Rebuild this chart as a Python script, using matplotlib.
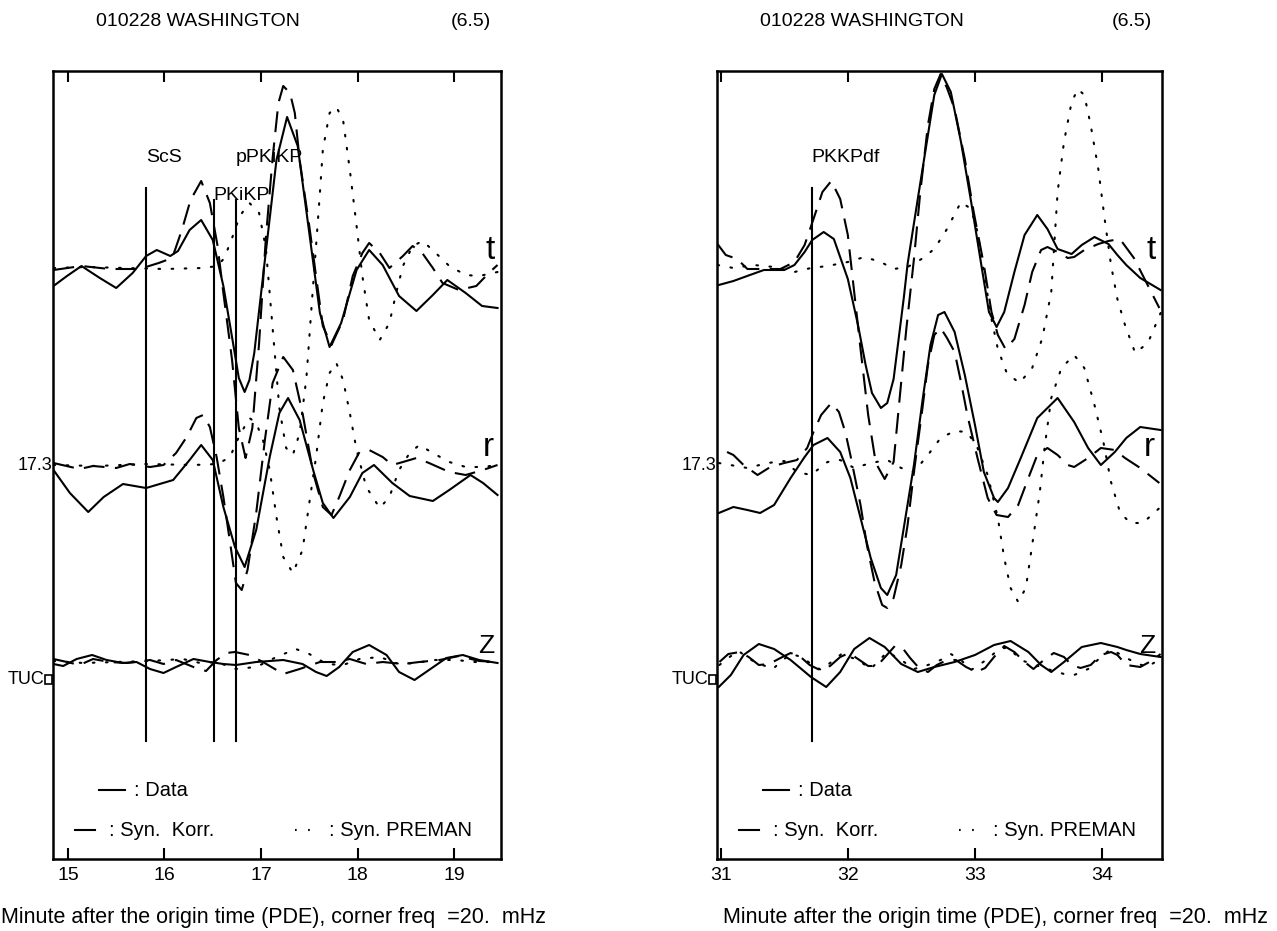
import numpy as np
import matplotlib.pyplot as plt

plt.rcParams['font.family'] = ['Liberation Sans', 'DejaVu Sans']

# ---- left panel (15-19 min), traces as (minute, amplitude) pairs ----
L_T_DATA = [(14.85, -18), (14.99, -8), (15.14, 2), (15.33, -10), (15.50, -20), (15.67, -5), (15.81, 12),
            (15.92, 18), (16.06, 12), (16.14, 17), (16.26, 38), (16.38, 48), (16.50, 28), (16.61, -18),
            (16.71, -75), (16.77, -110), (16.83, -124), (16.88, -112), (16.93, -85), (17.04, 8), (17.16, 108),
            (17.27, 151), (17.38, 122), (17.50, 35), (17.61, -45), (17.71, -79), (17.83, -55), (17.99, -2),
            (18.12, 18), (18.26, 3), (18.43, -28), (18.61, -43), (18.78, -27), (18.93, -12), (19.12, -25),
            (19.29, -38), (19.45, -40)]
L_T_KORR = [(14.85, -2), (15.14, 2), (15.43, -1), (15.74, -1), (15.94, 5), (16.08, 10), (16.18, 38), (16.27, 68),
            (16.38, 87), (16.47, 65), (16.55, 22), (16.61, -25), (16.70, -92), (16.77, -160), (16.84, -190),
            (16.91, -160), (16.98, -75), (17.05, 30), (17.12, 110), (17.18, 165), (17.23, 182), (17.30, 175),
            (17.35, 155), (17.40, 108), (17.50, 42), (17.57, -8), (17.64, -58), (17.73, -77), (17.85, -52),
            (17.95, -8), (18.05, 15), (18.12, 25), (18.23, 15), (18.33, 0), (18.47, 12), (18.57, 22),
            (18.67, 15), (18.78, 0), (18.88, -15), (19.05, -22), (19.23, -18), (19.36, -5), (19.45, 3)]
L_T_PREM = [(14.85, 0), (15.2, 1), (15.6, 0), (16.0, -1), (16.40, 0), (16.55, 2), (16.62, 10), (16.70, 30),
            (16.78, 52), (16.88, 65), (16.98, 55), (17.05, 20), (17.12, -60), (17.19, -140), (17.26, -180),
            (17.33, -187), (17.40, -165), (17.47, -110), (17.53, -30), (17.57, 22), (17.61, 75), (17.64, 118),
            (17.71, 155), (17.78, 161), (17.85, 148), (17.92, 98), (17.99, 42), (18.05, -8), (18.12, -52),
            (18.23, -72), (18.33, -55), (18.40, -25), (18.47, 2), (18.57, 22), (18.675, 27), (18.81, 15),
            (18.95, 2), (19.12, -7), (19.26, -8), (19.45, -4)]

L_R_DATA = [(14.85, -5), (15.02, -28), (15.21, -47), (15.37, -32), (15.57, -19), (15.81, -23), (16.09, -15),
            (16.26, 5), (16.38, 20), (16.50, 5), (16.61, -42), (16.73, -82), (16.83, -102), (16.95, -65),
            (17.09, 8), (17.19, 52), (17.28, 67), (17.40, 45), (17.54, -5), (17.64, -38), (17.75, -53),
            (17.92, -32), (18.05, -8), (18.17, 0), (18.36, -18), (18.54, -31), (18.78, -36), (18.95, -25),
            (19.17, -10), (19.30, -18), (19.45, -30)]
L_R_KORR = [(14.85, 2), (15.12, -4), (15.26, -1), (15.50, -3), (15.64, 1), (15.85, -2), (15.99, 0), (16.12, 12),
            (16.23, 28), (16.33, 47), (16.40, 50), (16.47, 38), (16.54, 8), (16.61, -32), (16.68, -78),
            (16.74, -118), (16.80, -125), (16.86, -105), (16.95, -48), (17.04, 25), (17.12, 82), (17.23, 108),
            (17.33, 95), (17.43, 52), (17.54, -8), (17.64, -42), (17.73, -50), (17.81, -32), (17.92, -5),
            (18.02, 13), (18.12, 15), (18.26, 8), (18.36, 0), (18.47, 3), (18.61, 7), (18.74, 2), (18.95, -7),
            (19.12, -10), (19.30, -5), (19.45, 0)]
L_R_PREM = [(14.85, 0), (15.3, -1), (15.8, 1), (16.3, 0), (16.55, 1), (16.68, 8), (16.74, 22), (16.81, 35),
            (16.88, 47), (16.95, 42), (17.02, 25), (17.09, -5), (17.16, -52), (17.23, -92), (17.33, -108),
            (17.43, -85), (17.50, -38), (17.57, 8), (17.64, 62), (17.71, 92), (17.78, 102), (17.85, 85),
            (17.92, 52), (17.99, 15), (18.09, -22), (18.23, -43), (18.33, -32), (18.43, -5), (18.54, 12),
            (18.64, 20), (18.78, 12), (18.95, 3), (19.12, -2), (19.30, -2), (19.45, 0)]

L_Z_DATA = [(14.85, -2), (14.95, -4), (15.09, 3), (15.25, 7), (15.40, 2), (15.57, -1), (15.71, 0), (15.85, -7),
            (15.99, -11), (16.12, -5), (16.30, 3), (16.47, 0), (16.61, -2), (16.74, -3), (16.95, 0), (17.23, 2),
            (17.43, -2), (17.57, -10), (17.68, -14), (17.81, -5), (17.95, 10), (18.12, 17), (18.30, 7),
            (18.43, -10), (18.59, -18), (18.74, -8), (18.92, 4), (19.09, 7), (19.26, 2), (19.45, -1)]
L_Z_KORR = [(14.85, 3), (14.99, 0), (15.12, -3), (15.26, 3), (15.43, 0), (15.61, -1), (15.85, 2), (15.99, -2),
            (16.12, 2), (16.30, -5), (16.43, -9), (16.54, 2), (16.64, 9), (16.73, 10), (16.88, 7), (17.02, 0),
            (17.23, -12), (17.40, -7), (17.61, 0), (17.78, 0), (17.92, 3), (18.09, -2), (18.26, 0), (18.47, -2),
            (18.64, 0), (18.85, 2), (19.05, 6), (19.26, 1), (19.45, 0)]
L_Z_PREM = [(14.85, 1), (15.16, -1), (15.50, 0), (15.85, 1), (16.19, 3), (16.37, -1), (16.54, 0), (16.74, -7),
            (16.95, -5), (17.16, 5), (17.36, 13), (17.50, 8), (17.68, -2), (17.85, -3), (18.02, 3), (18.23, 5),
            (18.43, -2), (18.61, -1), (18.78, 2), (19.02, 2), (19.22, 0), (19.45, 0)]

# ---- right panel (31-34 min) ----
R_T_DATA = [(30.985, -17), (31.10, -13), (31.23, -7), (31.34, -2), (31.50, -2), (31.58, 3), (31.66, 16),
            (31.72, 28), (31.81, 36), (31.89, 29), (32.00, -11), (32.08, -57), (32.14, -97), (32.19, -125),
            (32.26, -140), (32.31, -135), (32.36, -111), (32.44, -30), (32.47, 4), (32.55, 69), (32.63, 133),
            (32.68, 173), (32.74, 194), (32.81, 176), (32.89, 126), (32.97, 66), (33.05, 3), (33.11, -44),
            (33.17, -59), (33.23, -44), (33.31, -4), (33.39, 33), (33.49, 53), (33.57, 39), (33.65, 19),
            (33.76, 14), (33.84, 23), (33.94, 31), (34.05, 24), (34.12, 13), (34.19, 3), (34.30, -10),
            (34.46, -22)]
R_T_KORR = [(30.975, 24), (31.04, 13), (31.13, 9), (31.21, -1), (31.34, -1), (31.47, -1), (31.58, 6), (31.66, 23),
            (31.73, 49), (31.80, 76), (31.87, 87), (31.94, 69), (32.00, 33), (32.05, -24), (32.10, -81),
            (32.16, -147), (32.22, -195), (32.29, -211), (32.36, -194), (32.41, -127), (32.46, -61), (32.52, 9),
            (32.57, 76), (32.63, 143), (32.68, 179), (32.73, 194), (32.78, 180), (32.84, 159), (32.92, 109),
            (32.99, 56), (33.07, 3), (33.13, -44), (33.18, -67), (33.24, -81), (33.31, -71), (33.39, -37),
            (33.45, -4), (33.52, 18), (33.57, 21), (33.65, 16), (33.73, 10), (33.78, 11), (33.86, 18),
            (33.97, 24), (34.05, 27), (34.14, 29), (34.25, 10), (34.35, -15), (34.45, -40)]
R_T_PREM = [(30.975, 3), (31.10, 0), (31.26, 3), (31.42, 1), (31.58, -4), (31.71, 0), (31.84, 2), (32.00, 6),
            (32.13, 11), (32.26, 6), (32.36, -1), (32.47, 1), (32.58, 9), (32.68, 19), (32.78, 39), (32.89, 66),
            (32.97, 59), (33.02, 36), (33.07, -4), (33.13, -51), (33.18, -81), (33.25, -105), (33.35, -115),
            (33.45, -100), (33.53, -70), (33.60, -24), (33.65, 76), (33.70, 126), (33.76, 166), (33.81, 179),
            (33.86, 173), (33.91, 143), (33.97, 99), (34.02, 49), (34.07, 3), (34.12, -31), (34.18, -57),
            (34.26, -85), (34.36, -75), (34.46, -45)]

R_R_DATA = [(30.985, -48), (31.10, -42), (31.21, -45), (31.31, -48), (31.42, -40), (31.55, -13), (31.66, 8),
            (31.73, 20), (31.84, 27), (31.94, 13), (32.02, -13), (32.10, -53), (32.18, -93), (32.26, -123),
            (32.31, -130), (32.38, -110), (32.44, -63), (32.52, 0), (32.59, 67), (32.65, 120), (32.71, 150),
            (32.76, 153), (32.84, 133), (32.92, 90), (33.00, 40), (33.07, -7), (33.15, -33), (33.18, -37),
            (33.26, -23), (33.36, 7), (33.49, 47), (33.65, 67), (33.78, 43), (33.89, 17), (33.99, 0),
            (34.10, 13), (34.19, 27), (34.30, 38), (34.46, 35)]
R_R_KORR = [(31.05, 13), (31.10, 10), (31.18, 0), (31.29, -10), (31.39, -2), (31.50, 2), (31.60, 5), (31.68, 17),
            (31.73, 33), (31.79, 50), (31.87, 62), (31.93, 53), (31.98, 33), (32.02, 10), (32.10, -40),
            (32.15, -80), (32.21, -117), (32.27, -140), (32.31, -143), (32.36, -133), (32.42, -100),
            (32.47, -60), (32.52, -7), (32.58, 50), (32.63, 100), (32.68, 130), (32.73, 137), (32.78, 127),
            (32.84, 113), (32.89, 83), (32.94, 50), (33.02, 7), (33.10, -33), (33.17, -50), (33.26, -52),
            (33.34, -40), (33.42, -13), (33.49, 10), (33.57, 17), (33.65, 10), (33.73, 0), (33.78, -2),
            (33.89, 7), (33.99, 17), (34.10, 15), (34.18, 7), (34.30, -3), (34.45, -18)]
R_R_PREM = [(30.985, 2), (31.21, -3), (31.37, 2), (31.50, 4), (31.60, -7), (31.71, -10), (31.84, 3), (31.94, 5),
            (32.05, -3), (32.18, 2), (32.31, 5), (32.42, -3), (32.52, -7), (32.63, 10), (32.73, 27), (32.84, 34),
            (32.94, 33), (33.02, 17), (33.10, -10), (33.18, -53), (33.23, -93), (33.28, -123), (33.34, -137),
            (33.40, -123), (33.45, -80), (33.51, -27), (33.55, 20), (33.60, 67), (33.68, 97), (33.78, 110),
            (33.86, 97), (33.94, 60), (34.01, 23), (34.07, -17), (34.14, -47), (34.22, -58), (34.32, -58),
            (34.46, -42)]

R_Z_DATA = [(30.985, -25), (31.08, -13), (31.18, 7), (31.30, 18), (31.42, 13), (31.55, 2), (31.71, -15),
            (31.83, -25), (31.94, -10), (32.05, 13), (32.17, 24), (32.29, 15), (32.42, -2), (32.55, -10),
            (32.68, -5), (32.84, 0), (33.00, 7), (33.15, 17), (33.28, 21), (33.42, 10), (33.52, -3), (33.60, -10),
            (33.70, 0), (33.84, 15), (33.99, 19), (34.12, 15), (34.19, 12), (34.30, 8), (34.46, 5)]
R_Z_KORR = [(30.99, 0), (31.06, 8), (31.15, 10), (31.22, 5), (31.30, -3), (31.38, -2), (31.47, 4), (31.55, 9),
            (31.62, 6), (31.70, -3), (31.78, -8), (31.86, -4), (31.94, 5), (32.01, 9), (32.08, 3), (32.16, -4),
            (32.23, -4), (32.30, 6), (32.37, 16), (32.43, 14), (32.49, 4), (32.56, -6), (32.63, -10), (32.70, -3),
            (32.78, 2), (32.85, 2), (32.93, -5), (33.01, -10), (33.08, -6), (33.15, 5), (33.23, 16), (33.31, 10),
            (33.39, 0), (33.46, -7), (33.55, 3), (33.62, 9), (33.70, 5), (33.76, -3), (33.83, -6), (33.91, -3),
            (33.99, 7), (34.07, 10), (34.12, 7), (34.19, -3), (34.30, -5), (34.40, 2), (34.46, 8)]
R_Z_PREM = [(30.99, -3), (31.07, 5), (31.14, 11), (31.24, 2), (31.33, -3), (31.41, -7), (31.48, 1), (31.55, 8),
            (31.64, 5), (31.71, -2), (31.79, -8), (31.87, 0), (31.95, 8), (32.08, 2), (32.18, -7), (32.31, 10),
            (32.42, 2), (32.52, -7), (32.63, -3), (32.73, 2), (32.81, 8), (32.89, 2), (32.97, -8), (33.10, 3),
            (33.18, 12), (33.26, 15), (33.36, 2), (33.47, -3), (33.57, -7), (33.70, -12), (33.78, -13),
            (33.89, -7), (33.99, 5), (34.07, 13), (34.15, 7), (34.25, 0), (34.35, -5), (34.46, 3)]

# trace offsets (t, r, z) on the plot's vertical scale
OFFSETS = [591, 394, 197]
COMP_LABELS = ['t', 'r', 'Z']
L_PHASES = [('ScS', 15.81, 671, 702), ('PKiKP', 16.51, 659, 664), ('pPKiKP', 16.74, 659, 702)]
R_PHASES = [('PKKPdf', 31.717, 671, 702)]
PHASE_BOTTOM = 118
XLABEL = 'Minute after the origin time (PDE), corner freq  =20.  mHz'

W, H = 1277, 931
fig = plt.figure(figsize=(W / 100, H / 100), dpi=100)

SOLID = dict(color='black', lw=1.5, ls='-')
DASH = dict(color='black', lw=1.5, ls=(0, (10, 5)))
DOT = dict(color='black', lw=1.5, ls=(0, (0.8, 5.5)), dash_capstyle='round')


def px(x, y):
    return x / W, 1 - y / H


def make_panel(left_px, width_px, xlim, ticks, traces, phases):
    ax = fig.add_axes([left_px / W, (H - 859) / H, width_px / W, (859 - 71) / H])
    for off, (d, k, p) in zip(OFFSETS, traces):
        for tr, st in ((p, DOT), (k, DASH), (d, SOLID)):
            t = np.array([a for a, _ in tr])
            v = np.array([b for _, b in tr])
            ax.plot(t, v + off, **st)
    for name, x, top, ty in phases:
        ax.plot([x, x], [PHASE_BOTTOM, top], color='black', lw=1.5)
        ax.text(x, ty, name, fontsize=14, ha='left', va='center')
    ax.set_xlim(*xlim)
    ax.set_ylim(0, 788)
    ax.set_xticks(ticks)
    ax.set_xticklabels([str(t) for t in ticks], fontsize=14)
    ax.tick_params(axis='x', direction='in', length=8, width=1.5, top=True, pad=6)
    ax.set_yticks([])
    for s in ax.spines.values():
        s.set_linewidth(1.8)
    for off, lab in zip(OFFSETS, COMP_LABELS):
        ax.text(0.985, off + 18 if lab != 'Z' else off + 16, lab, transform=ax.get_yaxis_transform(),
                fontsize=24 if lab != 'Z' else 19, ha='right', va='center')
    return ax


axL = make_panel(53, 448, (14.845, 19.486), [15, 16, 17, 18, 19],
                 [(L_T_DATA, L_T_KORR, L_T_PREM), (L_R_DATA, L_R_KORR, L_R_PREM), (L_Z_DATA, L_Z_KORR, L_Z_PREM)],
                 L_PHASES)
axR = make_panel(717, 445, (30.971, 34.471), [31, 32, 33, 34],
                 [(R_T_DATA, R_T_KORR, R_T_PREM), (R_R_DATA, R_R_KORR, R_R_PREM), (R_Z_DATA, R_Z_KORR, R_Z_PREM)],
                 R_PHASES)

for x0 in (0, 664):
    # titles
    fig.text(*px(96 + x0, 21), '010228 WASHINGTON', fontsize=14, ha='left', va='center')
    fig.text(*px(491 + x0 + (0 if x0 == 0 else -3), 21), '(6.5)', fontsize=14, ha='right', va='center')
    # station / distance labels
    fig.text(*px(52 + x0, 465), '17.3', fontsize=13, ha='right', va='center')
    fig.text(*px(44 + x0, 679), 'TUC', fontsize=13, ha='right', va='center')
    fig.patches.append(plt.Rectangle(px(45 + x0, 684), 7 / W, 9 / H, transform=fig.transFigure,
                                     fill=False, lw=1.2, color='black'))
    # legend
    fig.lines.append(plt.Line2D([(99 + x0) / W, (125 + x0) / W], [1 - 790 / H] * 2, color='black', lw=1.5,
                                transform=fig.transFigure))
    fig.text(*px(134 + x0, 790), ': Data', fontsize=14.5, ha='left', va='center')
    fig.lines.append(plt.Line2D([(75 + x0) / W, (95 + x0) / W], [1 - 830 / H] * 2, color='black', lw=1.5,
                                transform=fig.transFigure))
    fig.text(*px(109 + x0, 830), ': Syn.  Korr.', fontsize=14.5, ha='left', va='center')
    fig.lines.append(plt.Line2D([(295 + x0) / W, (312 + x0) / W], [1 - 830 / H] * 2, color='black', lw=1.5,
                                ls=(0, (0.8, 5.5)), transform=fig.transFigure))
    fig.text(*px(329 + x0, 830), ': Syn. PREMAN', fontsize=14.5, ha='left', va='center')

fig.text(*px(1, 918), XLABEL, fontsize=15.5, ha='left', va='center')
fig.text(*px(1268, 918), XLABEL, fontsize=15.5, ha='right', va='center')

fig.savefig('out.png', dpi=100)
